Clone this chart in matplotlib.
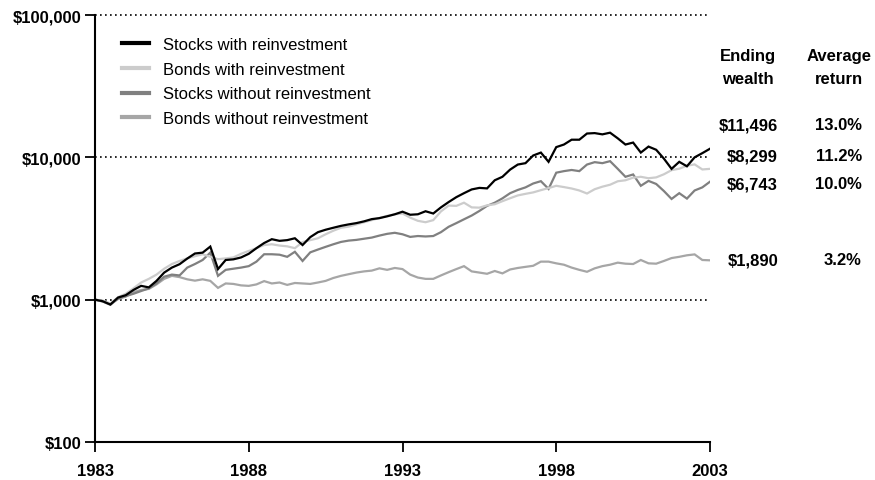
import numpy as np
import matplotlib
matplotlib.use("Agg")
import matplotlib.pyplot as plt
from matplotlib.ticker import FixedLocator, NullLocator

plt.rcParams["font.family"] = ["Liberation Sans", "DejaVu Sans"]

# quarterly points, 1983.00 .. 2003.00
years = np.arange(81) / 4 + 1983

stocks_reinv = [
    1000, 975, 925, 1035, 1075, 1170, 1250, 1220, 1355, 1550, 1680, 1775,
    1945, 2110, 2140, 2360, 1640, 1900, 1920, 1980, 2100, 2300, 2500, 2660,
    2590, 2620, 2700, 2420, 2750, 2980, 3100, 3200, 3300, 3380, 3450, 3550,
    3680, 3740, 3850, 3980, 4150, 3950, 3980, 4180, 4030, 4450, 4850, 5250,
    5600, 5950, 6100, 6050, 6900, 7300, 8200, 8900, 9100, 10300, 10800, 9300,
    11800, 12300, 13300, 13300, 14700, 14800, 14500, 14900, 13600, 12300,
    12700, 10800, 11900, 11300, 9800, 8300, 9300, 8650, 10000, 10700, 11496,
]
bonds_reinv = [
    1000, 985, 940, 1040, 1100, 1200, 1320, 1400, 1500, 1650, 1780, 1870,
    1950, 2020, 2085, 2000, 1925, 1950, 1980, 2100, 2200, 2300, 2420, 2450,
    2400, 2370, 2300, 2540, 2620, 2700, 2880, 3050, 3200, 3260, 3380, 3500,
    3620, 3750, 3880, 3980, 4030, 3770, 3580, 3500, 3620, 4170, 4580, 4560,
    4800, 4450, 4430, 4600, 4680, 4920, 5160, 5400, 5540, 5670, 5880, 6080,
    6310, 6180, 6040, 5850, 5570, 5970, 6220, 6420, 6790, 6900, 7200, 7300,
    7130, 7230, 7600, 8130, 8320, 8730, 8920, 8220, 8299,
]
stocks_no_reinv = [
    1000, 970, 920, 1020, 1060, 1100, 1150, 1200, 1300, 1450, 1500, 1480,
    1680, 1780, 1900, 2140, 1470, 1620, 1650, 1680, 1720, 1850, 2085, 2085,
    2070, 2000, 2170, 1870, 2150, 2250, 2350, 2450, 2545, 2600, 2630, 2680,
    2730, 2820, 2900, 2950, 2880, 2760, 2800, 2780, 2800, 2980, 3250, 3450,
    3670, 3900, 4200, 4560, 4800, 5150, 5600, 5900, 6150, 6550, 6800, 6000,
    7800, 8000, 8150, 8000, 8900, 9250, 9100, 9400, 8300, 7300, 7580, 6310,
    6830, 6500, 5800, 5100, 5600, 5130, 5850, 6150, 6743,
]
bonds_no_reinv = [
    1000, 980, 930, 1010, 1050, 1130, 1170, 1190, 1280, 1400, 1470, 1440,
    1390, 1360, 1390, 1355, 1210, 1300, 1290, 1260, 1250, 1280, 1350, 1300,
    1320, 1270, 1310, 1300, 1290, 1320, 1355, 1420, 1470, 1510, 1550, 1580,
    1600, 1660, 1620, 1670, 1640, 1500, 1430, 1400, 1400, 1480, 1560, 1640,
    1720, 1580, 1550, 1520, 1590, 1530, 1630, 1670, 1700, 1730, 1850, 1850,
    1800, 1760, 1680, 1620, 1570, 1660, 1720, 1760, 1820, 1790, 1780, 1900,
    1800, 1790, 1870, 1960, 2000, 2050, 2080, 1900, 1890,
]

series_names = [
    "Stocks with reinvestment",
    "Bonds with reinvestment",
    "Stocks without reinvestment",
    "Bonds without reinvestment",
]
series_colors = ["#000000", "#cccccc", "#808080", "#a6a6a6"]
ending_wealth = ["$11,496", "$8,299", "$6,743", "$1,890"]
average_return = ["13.0%", "11.2%", "10.0%", "3.2%"]

y_ticks = [100, 1000, 10000, 100000]
y_labels = ["$100", "$1,000", "$10,000", "$100,000"]
x_ticks = [1983, 1988, 1993, 1998, 2003]

W, H = 875, 481
fig = plt.figure(figsize=(W / 100, H / 100), dpi=100)
ax = fig.add_axes([95 / W, 1 - 443 / H, 615 / W, 427 / H])

data = [stocks_reinv, bonds_reinv, stocks_no_reinv, bonds_no_reinv]
lines = {}
# draw lighter lines first, black on top
for i in [3, 2, 1, 0]:
    (ln,) = ax.plot(years, data[i], color=series_colors[i], lw=1.6,
                    label=series_names[i], solid_joinstyle="miter")
    lines[i] = ln

ax.set_yscale("log")
ax.set_ylim(100, 100000)
ax.set_xlim(1983, 2003)
ax.yaxis.set_major_locator(FixedLocator(y_ticks))
ax.yaxis.set_minor_locator(NullLocator())
ax.set_yticklabels(y_labels)
ax.set_xticks(x_ticks)
ax.set_xticklabels([str(x) for x in x_ticks])

for side in ["top", "right"]:
    ax.spines[side].set_visible(False)
for side in ["left", "bottom"]:
    ax.spines[side].set_linewidth(1.5)

ax.tick_params(axis="both", direction="out", length=7, width=1.3,
               labelsize=12)
ax.tick_params(axis="x", pad=8)
ax.tick_params(axis="y", pad=3)
for lab in ax.get_xticklabels() + ax.get_yticklabels():
    lab.set_fontweight("bold")

# dotted gridlines at 1,000 / 10,000 / 100,000
for v in y_ticks[1:]:
    ax.axhline(v, color="black", lw=1.2, ls=(0, (1, 2)), zorder=0.5,
               clip_on=False)

ax.legend([lines[i] for i in range(4)], series_names, loc="upper left",
          bbox_to_anchor=(122 / W, 1 - 38 / H), bbox_transform=fig.transFigure,
          frameon=False, fontsize=12, handlelength=1.6, handletextpad=0.85,
          labelspacing=0.58, borderpad=0, borderaxespad=0)
for lh in ax.get_legend().get_lines():
    lh.set_linewidth(3)

# side table
def px(x, y):
    return x / W, 1 - y / H

fs = 12
fig.text(*px(748, 56), "Ending", ha="center", va="center", fontsize=fs,
         fontweight="bold")
fig.text(*px(748, 79), "wealth", ha="center", va="center", fontsize=fs,
         fontweight="bold")
fig.text(*px(839, 56), "Average", ha="center", va="center", fontsize=fs,
         fontweight="bold")
fig.text(*px(839, 79), "return", ha="center", va="center", fontsize=fs,
         fontweight="bold")
row_y = [126, 157, 185, 261]
for yy, ew, ar in zip(row_y, ending_wealth, average_return):
    fig.text(*px(778, yy), ew, ha="right", va="center", fontsize=fs,
             fontweight="bold")
    fig.text(*px(862, yy), ar, ha="right", va="center", fontsize=fs,
             fontweight="bold")

fig.savefig("out.png", dpi=100)
